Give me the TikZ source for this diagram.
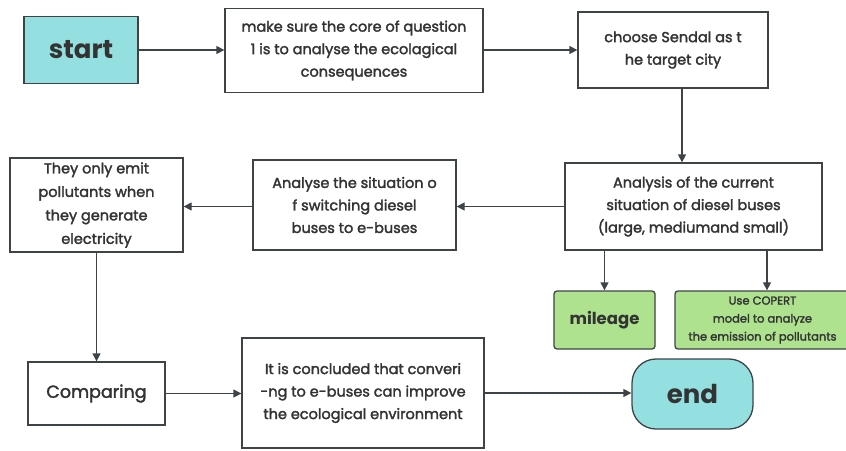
\documentclass[tikz,border=0pt]{standalone}
\usepackage{fontspec}
\setmainfont{Poppins}
\newfontfamily\medfont{Poppins}[FakeBold=2]
\usetikzlibrary{arrows.meta,positioning}
\definecolor{cyanfill}{HTML}{94E0E0}
\definecolor{greenfill}{HTML}{AEE28F}
\definecolor{ink}{HTML}{333333}
\definecolor{edge}{HTML}{3E4348}
\tikzset{
  box/.style={draw=edge, line width=1.3pt, fill=white, align=center, text=ink, inner sep=0pt, font=\medfont\fontsize{14.5}{22.5}\selectfont},
  term/.style={box, fill=cyanfill, font=\fontsize{26}{30}\selectfont\bfseries},
  gbox/.style={box, fill=greenfill, rounded corners=3pt},
  arr/.style={draw=edge, line width=1.3pt, -{Triangle[length=8pt,width=8pt]}},
}
\begin{document}
\begin{tikzpicture}[x=1pt,y=-1pt]
\useasboundingbox (0,0) rectangle (846,450);
\node[term, minimum width=114pt, minimum height=67pt] (start) at (81,50) {start};
\node[box, minimum width=258pt, minimum height=84pt] (q1) at (354,50.5) {make sure the core of question\\1 is to analyse the ecolagical\\consequences};
\node[box, minimum width=190pt, minimum height=76pt] (city) at (673,50) {choose Sendal as t\\he target city};
\node[box, minimum width=257pt, minimum height=87pt] (cur) at (693.5,206.5) {Analysis of the current\\situation of diesel buses\\(large, mediumand small)};
\node[box, minimum width=203pt, minimum height=90pt] (sw) at (354.5,205) {Analyse the situation o\\f switching diesel\\buses to e-buses};
\node[box, minimum width=173pt, minimum height=94pt, font=\medfont\fontsize{14.5}{23.5}\selectfont] (emit) at (96.5,205) {They only emit\\pollutants when\\they generate\\electricity};
\node[gbox, minimum width=101pt, minimum height=58pt, font=\fontsize{16.5}{18}\selectfont\bfseries] (mil) at (604.5,320) {mileage};
\node[gbox, minimum width=175pt, minimum height=58pt, font=\medfont\fontsize{11.5}{18}\selectfont] (cop) at (762.5,320) {Use COPERT\\model to analyze\\the emission of pollutants};
\node[box, minimum width=137pt, minimum height=63pt, font=\medfont\fontsize{17.5}{20}\selectfont] (cmp) at (96.5,393.5) {Comparing};
\node[box, minimum width=242pt, minimum height=110pt] (conc) at (363,393) {It is concluded that converi\\-ng to e-buses can improve\\the ecological environment};
\node[term, rounded corners=24pt, minimum width=121pt, minimum height=70pt] (end) at (692.5,394) {end};
% connectors
\draw[arr] (start) -- (start -| q1.west);
\draw[arr] (start -| q1.east) -- (start -| city.west);
\draw[arr] (city.south -| 682,0) -- (cur.north -| 682,0);
\draw[arr] (cur.west) -- (cur.west -| sw.east);
\draw[arr] (cur.west -| sw.west) -- (cur.west -| emit.east);
\draw[arr] (emit.south) -- (cmp.north);
\draw[arr] (cur.south -| mil.north) -- (mil.north);
\draw[arr] (cur.south -| 767,0) -- (cop.north -| 767,0);
\draw[arr] (cmp.east) -- (cmp.east -| conc.west);
\draw[arr] (conc.east) -- (conc.east -| end.west);
\end{tikzpicture}
\end{document}
